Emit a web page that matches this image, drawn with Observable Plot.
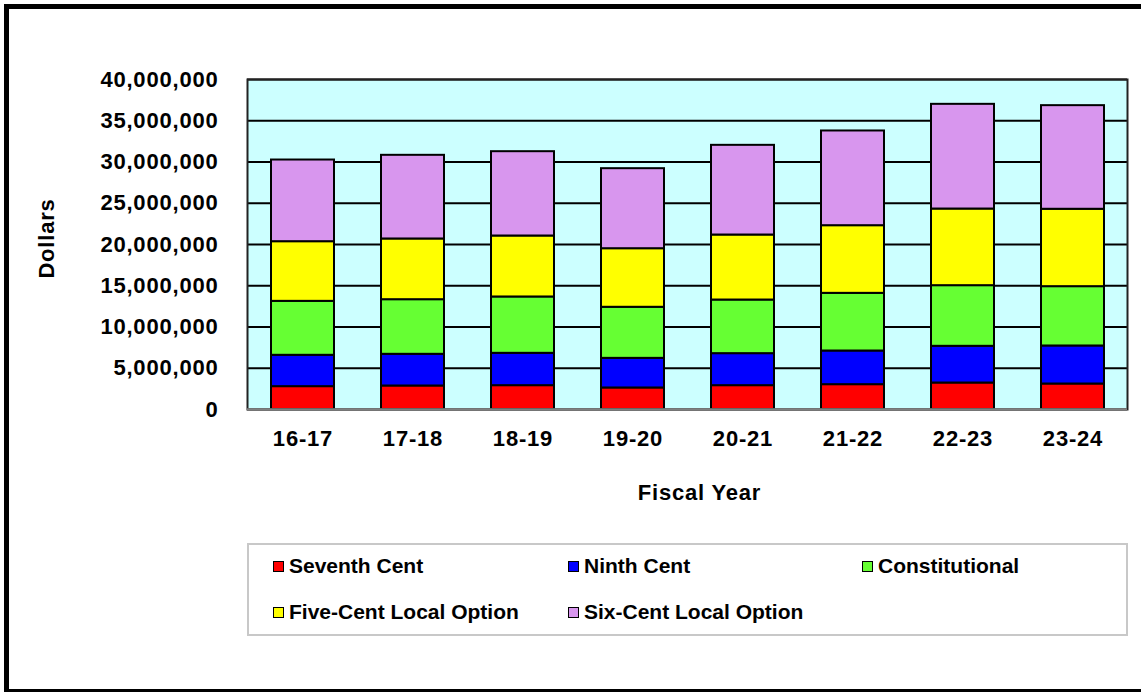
<!DOCTYPE html>
<html>
<head>
<meta charset="utf-8">
<script src="https://cdn.jsdelivr.net/npm/d3@7"></script>
<script src="https://cdn.jsdelivr.net/npm/@observablehq/plot@0.6"></script>
<style>
  html, body { margin: 0; padding: 0; background: #fff; }
  #wrap { position: relative; width: 1141px; height: 692px; overflow: hidden; background: #fff; }
  #border { position: absolute; left: 4px; top: 4px; width: 1160px; height: 690px; border: 5px solid #000; box-sizing: border-box; pointer-events: none; }
  #chart { position: absolute; left: 0; top: 0; }
  #chart svg text { letter-spacing: 0.8px; }
  #legend { position: absolute; left: 247px; top: 543px; width: 881px; height: 93px; border: 2px solid #c8c8c8; box-sizing: border-box; background: #fff;
            font-family: "Liberation Sans", Arial, sans-serif; font-weight: bold; font-size: 21px; color: #000; }
  .item { position: absolute; display: flex; align-items: center; height: 24px; white-space: nowrap; }
  .sw { width: 9px; height: 9px; border: 1.5px solid #000; margin-right: 5px; }
</style>
</head>
<body>
<div id="wrap">
  <div id="chart"></div>
  <div id="legend"></div>
  <div id="border"></div>
</div>
<script>
const years = ["16-17", "17-18", "18-19", "19-20", "20-21", "21-22", "22-23", "23-24"];
const seriesNames = ["Seventh Cent", "Ninth Cent", "Constitutional", "Five-Cent Local Option", "Six-Cent Local Option"];
const seriesColors = ["#ff0000", "#0000ff", "#66ff33", "#ffff00", "#d896ee"];

const seventhCent     = [2770000, 2850000, 2890000, 2610000, 2890000, 3010000, 3210000, 3090000];
const ninthCent       = [3800000, 3840000, 3920000, 3590000, 3880000, 4080000, 4450000, 4610000];
const constitutional  = [6540000, 6620000, 6830000, 6190000, 6500000, 6990000, 7350000, 7190000];
const fiveCentOption  = [7230000, 7360000, 7390000, 7100000, 7880000, 8200000, 9290000, 9380000];
const sixCentOption   = [9900000, 10140000, 10220000, 9700000, 10870000, 11480000, 12690000, 12560000];

const yTicks = [0, 5000000, 10000000, 15000000, 20000000, 25000000, 30000000, 35000000, 40000000];

const seriesValues = [seventhCent, ninthCent, constitutional, fiveCentOption, sixCentOption];
const data = [];
years.forEach((yr, i) => {
  seriesNames.forEach((s, j) => data.push({year: yr, series: s, value: seriesValues[j][i]}));
});

const chart = Plot.plot({
  width: 1141,
  height: 692,
  marginLeft: 247,
  marginRight: 14,
  marginTop: 79,
  marginBottom: 283,
  style: {fontFamily: "'Liberation Sans', Arial, sans-serif", fontWeight: "bold", fontSize: "22px", color: "#000", background: "transparent", overflow: "visible"},
  x: {domain: years, paddingInner: 0.43, paddingOuter: 0.215, align: 0.5},
  y: {domain: [0, 40000000]},
  color: {domain: seriesNames, range: seriesColors},
  marks: [
    Plot.frame({fill: "#ccffff", stroke: null}),
    Plot.gridY({ticks: yTicks, stroke: "#000", strokeOpacity: 1, strokeWidth: 2}),
    Plot.barY(data, {x: "year", y: "value", fill: "series", stroke: "#000", strokeWidth: 2}),
    Plot.frame({stroke: "#222", strokeWidth: 2}),
    Plot.ruleY([0], {stroke: "#808080", strokeWidth: 2.5}),
    Plot.axisY({ticks: yTicks, tickFormat: d3.format(","), tickSize: 0, tickPadding: 29, label: null, fill: "#000"}),
    Plot.axisX({tickSize: 0, tickPadding: 21, label: null, fill: "#000"}),
    Plot.text(["Dollars"], {frameAnchor: "left", textAnchor: "middle", dx: -201, dy: -6, rotate: -90, fill: "#000"}),
    Plot.text(["Fiscal Year"], {frameAnchor: "bottom", dx: 12, dy: 90, fill: "#000"})
  ]
});
document.getElementById("chart").appendChild(chart);

// Legend
const legend = d3.select("#legend");
const colX = [24, 319, 613];
const rowY = [9, 55];
seriesNames.forEach((s, i) => {
  const col = i < 3 ? i : i - 3;
  const row = i < 3 ? 0 : 1;
  const item = legend.append("div").attr("class", "item")
    .style("left", colX[col] + "px").style("top", rowY[row] + "px");
  item.append("div").attr("class", "sw").style("background", seriesColors[i]);
  item.append("span").text(s);
});
</script>
</body>
</html>
